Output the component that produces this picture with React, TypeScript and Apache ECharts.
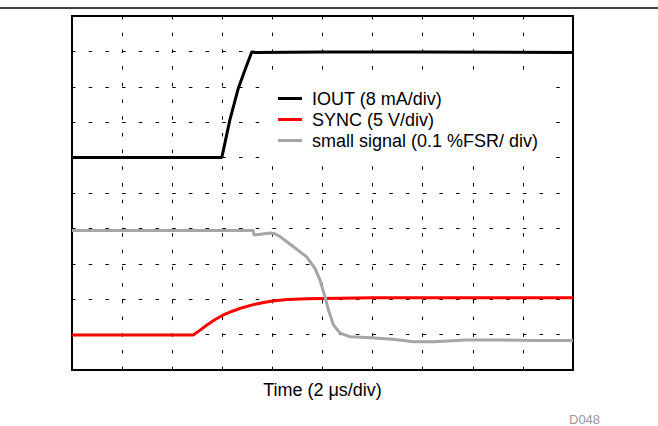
import React, { useEffect, useRef } from "react";
import * as echarts from "echarts";

// time in µs (2 µs per division), values in divisions
const iout: [number, number][] = [
  [0, 6.0], [5.98, 6.0], [6.3, 7.06], [6.64, 7.96], [6.9, 8.47], [7.18, 8.99],
  [7.3, 8.97], [10, 8.98], [14, 8.98], [20, 8.97],
];
const sync: [number, number][] = [
  [0, 0.99], [4.84, 0.99], [5.1, 1.12], [5.4, 1.28], [5.7, 1.42], [6.0, 1.54],
  [6.4, 1.66], [6.8, 1.76], [7.2, 1.84], [7.6, 1.9], [8.0, 1.95], [8.6, 1.99],
  [9.4, 2.01], [10, 2.02], [12, 2.04], [20, 2.04],
];
const small: [number, number][] = [
  [0, 3.94], [7.24, 3.94], [7.26, 3.81], [7.6, 3.84], [7.9, 3.87], [8.1, 3.85],
  [8.3, 3.77], [8.84, 3.48], [9.36, 3.2], [9.7, 2.87], [9.9, 2.54], [10.1, 2.07],
  [10.24, 1.69], [10.44, 1.27], [10.7, 1.04], [11.1, 0.94], [11.76, 0.92],
  [12.82, 0.87], [13.62, 0.8], [14.42, 0.8], [15.76, 0.85], [17.08, 0.85],
  [18.4, 0.83], [20, 0.83],
];
const seriesNames = ["IOUT (8 mA/div)", "SYNC (5 V/div)", "small signal (0.1 %FSR/ div)"];
const xTitle = "Time (2 \u03bcs/div)";
const figId = "D048";

const FONT = "'Liberation Sans', Arial, sans-serif";

export default function App() {
  const ref = useRef<HTMLDivElement>(null);
  useEffect(() => {
    const chart = echarts.init(ref.current!, undefined, { renderer: "svg" });
    const dashed = { color: "#000", width: 1, type: [3.5, 13.2] as number[] };
    chart.setOption({
      animation: false,
      textStyle: { fontFamily: FONT },
      grid: {
        left: 72, right: 85, top: 16, bottom: 56,
        show: true, borderColor: "#000", borderWidth: 2, backgroundColor: "transparent",
      },
      xAxis: {
        type: "value", min: 0, max: 20, interval: 2,
        axisLine: { show: false }, axisTick: { show: false }, axisLabel: { show: false },
        splitLine: { show: true, lineStyle: dashed },
        name: xTitle, nameLocation: "middle", nameGap: 11,
        nameTextStyle: { fontSize: 18, color: "#000", fontFamily: FONT },
      },
      yAxis: {
        type: "value", min: 0, max: 10, interval: 1,
        axisLine: { show: false }, axisTick: { show: false }, axisLabel: { show: false },
        splitLine: { show: true, lineStyle: dashed },
      },
      legend: {
        orient: "vertical", left: 262, top: 74, itemWidth: 24, itemHeight: 14, itemGap: 0,
        padding: [14, 8, 11, 16], backgroundColor: "#fff",
        icon: "path://M0,0L24,0L24,3L0,3Z",
        textStyle: { fontSize: 18, color: "#000", fontFamily: FONT, lineHeight: 21, padding: [0, 0, 0, 5] },
        data: seriesNames,
      },
      graphic: [
        { type: "line", shape: { x1: 0, y1: 8, x2: 658, y2: 8 }, style: { stroke: "#000", lineWidth: 1.5 } },
        {
          type: "text", x: 569, y: 413,
          style: { text: figId, fontSize: 13, fill: "#999", fontFamily: FONT, textVerticalAlign: "top" },
        },
      ],
      series: [
        { name: seriesNames[0], type: "line", data: iout, symbol: "none", itemStyle: { color: "#000" }, lineStyle: { color: "#000", width: 3 } },
        { name: seriesNames[1], type: "line", data: sync, symbol: "none", itemStyle: { color: "#ff0000" }, lineStyle: { color: "#ff0000", width: 3 } },
        { name: seriesNames[2], type: "line", data: small, symbol: "none", itemStyle: { color: "#a6a6a6" }, lineStyle: { color: "#a6a6a6", width: 3 } },
      ],
    });
    return () => chart.dispose();
  }, []);
  return <div ref={ref} style={{ position: "fixed", left: 0, top: 0, width: 658, height: 426, background: "#fff" }} />;
}
